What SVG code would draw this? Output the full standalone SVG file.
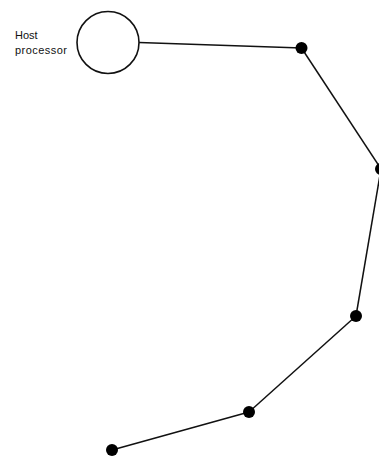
<svg xmlns="http://www.w3.org/2000/svg" width="379" height="456" viewBox="0 0 379 456">
<style>
.lbl{font-family:"Liberation Sans",Arial,sans-serif;font-size:11px;fill:#111}
.edge{stroke:#111;stroke-width:1.5;fill:none}
.dot{fill:#000}
</style>
<rect width="379" height="456" fill="#fff"/>
<g id="connectors">
<path class="edge" d="M139,42.5 L301.5,48"/>
<path class="edge" d="M301.5,48 L381,169"/>
<path class="edge" d="M381,169 L356,316"/>
<path class="edge" d="M356,316 L249,412"/>
<path class="edge" d="M249,412 L112,450"/>
</g>
<g id="host">
<circle cx="108" cy="42.5" r="31" fill="#fff" stroke="#111" stroke-width="1.6"/>
<text class="lbl" x="15" y="39">Host</text>
<text class="lbl" x="15" y="54" textLength="52">processor</text>
</g>
<g id="n1"><circle class="dot" cx="301.5" cy="48" r="6"/></g>
<g id="n2"><circle class="dot" cx="381" cy="169" r="6"/></g>
<g id="n3"><circle class="dot" cx="356" cy="316" r="6"/></g>
<g id="n4"><circle class="dot" cx="249" cy="412" r="6"/></g>
<g id="n5"><circle class="dot" cx="112" cy="450" r="6"/></g>
</svg>
